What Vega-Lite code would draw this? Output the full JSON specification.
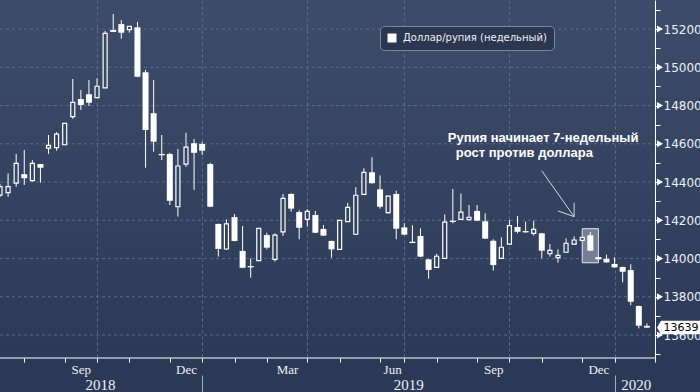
{
  "$schema": "https://vega.github.io/schema/vega-lite/v6.json",
  "width": 700,
  "height": 358,
  "autosize": {"type": "none"},
  "padding": {"left": 0, "top": 0, "right": 0, "bottom": 34},
  "background": "#2b3956",
  "view": {"stroke": null, "fill": {"gradient": "linear", "x1": 0, "y1": 0, "x2": 0, "y2": 1, "stops": [{"offset": 0, "color": "#3d4c69"}, {"offset": 1, "color": "#2c3a57"}]}},
  "datasets": {
    "candles": [
      {"d": "2018-07-06", "o": 14332, "h": 14390, "l": 14322, "c": 14376},
      {"d": "2018-07-13", "o": 14345, "h": 14446, "l": 14323, "c": 14376},
      {"d": "2018-07-20", "o": 14394, "h": 14547, "l": 14376, "c": 14498},
      {"d": "2018-07-27", "o": 14441, "h": 14568, "l": 14385, "c": 14420},
      {"d": "2018-08-03", "o": 14407, "h": 14515, "l": 14402, "c": 14498},
      {"d": "2018-08-10", "o": 14494, "h": 14495, "l": 14397, "c": 14475},
      {"d": "2018-08-17", "o": 14577, "h": 14646, "l": 14547, "c": 14592},
      {"d": "2018-08-24", "o": 14580, "h": 14662, "l": 14564, "c": 14651},
      {"d": "2018-08-31", "o": 14595, "h": 14709, "l": 14593, "c": 14707},
      {"d": "2018-09-07", "o": 14742, "h": 14939, "l": 14731, "c": 14817},
      {"d": "2018-09-14", "o": 14834, "h": 14881, "l": 14777, "c": 14803},
      {"d": "2018-09-21", "o": 14859, "h": 14934, "l": 14798, "c": 14815},
      {"d": "2018-09-28", "o": 14841, "h": 14943, "l": 14839, "c": 14901},
      {"d": "2018-10-05", "o": 14893, "h": 15190, "l": 14891, "c": 15178},
      {"d": "2018-10-12", "o": 15195, "h": 15279, "l": 15184, "c": 15185},
      {"d": "2018-10-19", "o": 15226, "h": 15247, "l": 15150, "c": 15181},
      {"d": "2018-10-26", "o": 15197, "h": 15216, "l": 15181, "c": 15214},
      {"d": "2018-11-02", "o": 15209, "h": 15237, "l": 14949, "c": 14951},
      {"d": "2018-11-09", "o": 14974, "h": 14986, "l": 14475, "c": 14672},
      {"d": "2018-11-16", "o": 14760, "h": 14934, "l": 14559, "c": 14611},
      {"d": "2018-11-23", "o": 14547, "h": 14646, "l": 14515, "c": 14540},
      {"d": "2018-11-30", "o": 14547, "h": 14553, "l": 14280, "c": 14302},
      {"d": "2018-12-07", "o": 14271, "h": 14573, "l": 14219, "c": 14484},
      {"d": "2018-12-14", "o": 14494, "h": 14658, "l": 14480, "c": 14583},
      {"d": "2018-12-21", "o": 14603, "h": 14625, "l": 14359, "c": 14553},
      {"d": "2018-12-28", "o": 14599, "h": 14611, "l": 14541, "c": 14564},
      {"d": "2019-01-04", "o": 14494, "h": 14501, "l": 14269, "c": 14271},
      {"d": "2019-01-11", "o": 14181, "h": 14183, "l": 14010, "c": 14050},
      {"d": "2019-01-18", "o": 14050, "h": 14205, "l": 14045, "c": 14181},
      {"d": "2019-01-25", "o": 14217, "h": 14233, "l": 14090, "c": 14092},
      {"d": "2019-02-01", "o": 14040, "h": 14170, "l": 13950, "c": 13952},
      {"d": "2019-02-08", "o": 13961, "h": 14001, "l": 13900, "c": 13954},
      {"d": "2019-02-15", "o": 13989, "h": 14160, "l": 13987, "c": 14158},
      {"d": "2019-02-22", "o": 14123, "h": 14135, "l": 14048, "c": 14057},
      {"d": "2019-03-01", "o": 13996, "h": 14132, "l": 13984, "c": 14123},
      {"d": "2019-03-08", "o": 14140, "h": 14338, "l": 14118, "c": 14315},
      {"d": "2019-03-15", "o": 14338, "h": 14340, "l": 14245, "c": 14261},
      {"d": "2019-03-22", "o": 14243, "h": 14252, "l": 14101, "c": 14161},
      {"d": "2019-03-29", "o": 14205, "h": 14258, "l": 14167, "c": 14247},
      {"d": "2019-04-05", "o": 14228, "h": 14249, "l": 14133, "c": 14135},
      {"d": "2019-04-12", "o": 14155, "h": 14176, "l": 14118, "c": 14120},
      {"d": "2019-04-19", "o": 14092, "h": 14094, "l": 14005, "c": 14048},
      {"d": "2019-04-26", "o": 14048, "h": 14202, "l": 14046, "c": 14200},
      {"d": "2019-05-03", "o": 14193, "h": 14291, "l": 14191, "c": 14268},
      {"d": "2019-05-10", "o": 14127, "h": 14374, "l": 14125, "c": 14331},
      {"d": "2019-05-17", "o": 14336, "h": 14472, "l": 14334, "c": 14451},
      {"d": "2019-05-24", "o": 14451, "h": 14530, "l": 14392, "c": 14394},
      {"d": "2019-05-31", "o": 14362, "h": 14435, "l": 14261, "c": 14271},
      {"d": "2019-06-14", "o": 14240, "h": 14328, "l": 14235, "c": 14326},
      {"d": "2019-06-21", "o": 14338, "h": 14355, "l": 14101, "c": 14156},
      {"d": "2019-06-28", "o": 14163, "h": 14184, "l": 14123, "c": 14125},
      {"d": "2019-07-05", "o": 14088, "h": 14174, "l": 14081, "c": 14081},
      {"d": "2019-07-12", "o": 14118, "h": 14158, "l": 14008, "c": 14010},
      {"d": "2019-07-19", "o": 13996, "h": 13998, "l": 13895, "c": 13940},
      {"d": "2019-07-26", "o": 13954, "h": 14025, "l": 13952, "c": 14012},
      {"d": "2019-08-02", "o": 14001, "h": 14231, "l": 13999, "c": 14190},
      {"d": "2019-08-09", "o": 14198, "h": 14364, "l": 14184, "c": 14191},
      {"d": "2019-08-16", "o": 14205, "h": 14340, "l": 14203, "c": 14243},
      {"d": "2019-08-23", "o": 14203, "h": 14280, "l": 14198, "c": 14216},
      {"d": "2019-08-30", "o": 14249, "h": 14280, "l": 14196, "c": 14198},
      {"d": "2019-09-06", "o": 14195, "h": 14237, "l": 14102, "c": 14104},
      {"d": "2019-09-13", "o": 14093, "h": 14101, "l": 13937, "c": 13966},
      {"d": "2019-09-20", "o": 14001, "h": 14111, "l": 13999, "c": 14059},
      {"d": "2019-09-27", "o": 14075, "h": 14202, "l": 14073, "c": 14172},
      {"d": "2019-10-04", "o": 14165, "h": 14223, "l": 14132, "c": 14140},
      {"d": "2019-10-11", "o": 14144, "h": 14193, "l": 14135, "c": 14137},
      {"d": "2019-10-18", "o": 14132, "h": 14198, "l": 14120, "c": 14153},
      {"d": "2019-10-25", "o": 14132, "h": 14134, "l": 14001, "c": 14041},
      {"d": "2019-11-01", "o": 14025, "h": 14076, "l": 14010, "c": 14043},
      {"d": "2019-11-08", "o": 14005, "h": 14048, "l": 13978, "c": 14017},
      {"d": "2019-11-15", "o": 14033, "h": 14106, "l": 14031, "c": 14080},
      {"d": "2019-11-22", "o": 14075, "h": 14116, "l": 14073, "c": 14097},
      {"d": "2019-11-29", "o": 14095, "h": 14113, "l": 14093, "c": 14111},
      {"d": "2019-12-06", "o": 14122, "h": 14140, "l": 14039, "c": 14041},
      {"d": "2019-12-13", "o": 14008, "h": 14010, "l": 13994, "c": 13996},
      {"d": "2019-12-20", "o": 13999, "h": 14020, "l": 13978, "c": 13980},
      {"d": "2019-12-27", "o": 13972, "h": 14007, "l": 13952, "c": 13954},
      {"d": "2020-01-03", "o": 13956, "h": 13958, "l": 13876, "c": 13931},
      {"d": "2020-01-10", "o": 13940, "h": 13970, "l": 13756, "c": 13774},
      {"d": "2020-01-17", "o": 13752, "h": 13754, "l": 13635, "c": 13649},
      {"d": "2020-01-24", "o": 13648, "h": 13661, "l": 13637, "c": 13639}
    ],
    "highlight": [{"d": "2019-11-29", "d2": "2019-12-13", "v": 14156, "v2": 13978}],
    "notes": [
      {"d": "2019-08-02", "v": 14611, "t": "Рупия начинает 7-недельный"},
      {"d": "2019-08-09", "v": 14530, "t": "рост против доллара"}
    ],
    "arrow": [
      {"d": "2019-10-25", "v": 14459, "d2": "2019-11-22", "v2": 14219},
      {"d": "2019-11-08", "v": 14249, "d2": "2019-11-22", "v2": 14219},
      {"d": "2019-11-22", "v": 14292, "d2": "2019-11-22", "v2": 14219}
    ],
    "marks": [
      {"d": "2020-01-31", "v": 13600},
      {"d": "2020-01-31", "v": 13800},
      {"d": "2020-01-31", "v": 14000},
      {"d": "2020-01-31", "v": 14200},
      {"d": "2020-01-31", "v": 14400},
      {"d": "2020-01-31", "v": 14600},
      {"d": "2020-01-31", "v": 14800},
      {"d": "2020-01-31", "v": 15000},
      {"d": "2020-01-31", "v": 15200}
    ],
    "last": [{"d": "2020-01-31", "v": 13639, "t": "13639"}]
  },
  "resolve": {"axis": {"x": "independent", "y": "independent"}},
  "layer": [
    {
      "data": {"name": "marks"},
      "mark": {"type": "rule", "color": "#5b6b8b", "strokeWidth": 1, "strokeDash": [3, 3]},
      "encoding": {
        "x": {"datum": "2018-07-06", "type": "ordinal", "axis": null,
          "scale": {"type": "point", "range": [0, 655], "padding": 0,
            "domain": ["2018-07-06","2018-07-13","2018-07-20","2018-07-27","2018-08-03","2018-08-10","2018-08-17","2018-08-24","2018-08-31","2018-09-07","2018-09-14","2018-09-21","2018-09-28","2018-10-05","2018-10-12","2018-10-19","2018-10-26","2018-11-02","2018-11-09","2018-11-16","2018-11-23","2018-11-30","2018-12-07","2018-12-14","2018-12-21","2018-12-28","2019-01-04","2019-01-11","2019-01-18","2019-01-25","2019-02-01","2019-02-08","2019-02-15","2019-02-22","2019-03-01","2019-03-08","2019-03-15","2019-03-22","2019-03-29","2019-04-05","2019-04-12","2019-04-19","2019-04-26","2019-05-03","2019-05-10","2019-05-17","2019-05-24","2019-05-31","2019-06-14","2019-06-21","2019-06-28","2019-07-05","2019-07-12","2019-07-19","2019-07-26","2019-08-02","2019-08-09","2019-08-16","2019-08-23","2019-08-30","2019-09-06","2019-09-13","2019-09-20","2019-09-27","2019-10-04","2019-10-11","2019-10-18","2019-10-25","2019-11-01","2019-11-08","2019-11-15","2019-11-22","2019-11-29","2019-12-06","2019-12-13","2019-12-20","2019-12-27","2020-01-03","2020-01-10","2020-01-17","2020-01-24","2020-01-31"]}},
        "x2": {"datum": "2020-01-31"},
        "y": {"field": "v", "type": "quantitative", "scale": {"domain": [13480, 15352], "nice": false, "zero": false},
          "axis": {
            "orient": "right", "offset": -45, "title": null, "grid": false,
            "values": [13500, 13600, 13700, 13800, 13900, 14000, 14100, 14200, 14300, 14400, 14500, 14600, 14700, 14800, 14900, 15000, 15100, 15200, 15300],
            "format": "d",
            "labelExpr": "datum.value % 200 == 0 ? datum.label : ''",
            "domain": true, "domainColor": "#ffffff", "domainWidth": 1,
            "ticks": true, "tickColor": "#ffffff", "tickSize": 5,
            "labelPadding": 3, "labelFont": "DejaVu Sans", "labelFontSize": 12, "labelColor": "#eef0f4",
            "labelOverlap": false, "labelBound": false, "labelFlush": false
          }}
      }
    },
    {
      "data": {"name": "last"},
      "mark": {"type": "rule", "color": "#ffffff", "strokeWidth": 1},
      "encoding": {
        "x": {"datum": "2018-07-06", "type": "ordinal", "axis": null},
        "x2": {"datum": "2020-01-31"},
        "y": {"datum": 13480, "type": "quantitative", "axis": null}
      }
    },
    {
      "data": {"name": "highlight"},
      "mark": {"type": "rect", "fill": "#808aa0", "fillOpacity": 0.85, "stroke": "#e4e7ee", "strokeWidth": 1},
      "encoding": {
        "x": {"field": "d", "type": "ordinal", "axis": null},
        "x2": {"field": "d2"},
        "y": {"field": "v", "type": "quantitative", "axis": null},
        "y2": {"field": "v2"}
      }
    },
    {
      "data": {"name": "candles"},
      "mark": {"type": "rule", "color": "#ffffff", "strokeWidth": 1},
      "encoding": {
        "x": {"field": "d", "type": "ordinal",
          "axis": {
            "orient": "bottom", "title": null, "labelAngle": 0, "domain": false,
            "values": ["2018-07-27","2018-08-31","2018-09-14","2018-09-28","2018-10-26","2018-11-30","2018-12-14","2018-12-28","2019-01-25","2019-02-22","2019-03-08","2019-03-29","2019-04-26","2019-05-31","2019-06-14","2019-06-28","2019-07-26","2019-08-30","2019-09-13","2019-09-27","2019-10-25","2019-11-29","2019-12-13","2019-12-27","2020-01-31"],
            "tickColor": "#ffffff", "tickSize": 4,
            "tickOpacity": {"condition": {"test": "utcdate(toDate(datum.value)) > 20", "value": 1}, "value": 0},
            "grid": true, "gridColor": "#5b6b8b", "gridDash": [3, 3], "gridWidth": 1,
            "gridOpacity": {"condition": {"test": "utcdate(toDate(datum.value)) > 20 && utcmonth(toDate(datum.value)) % 3 == 2", "value": 1}, "value": 0},
            "labelExpr": "utcdate(toDate(datum.value)) <= 20 ? utcFormat(toDate(datum.value), '%b') : ''",
            "labelOffset": {"condition": {"test": "utcmonth(toDate(datum.value)) == 2 || utcmonth(toDate(datum.value)) == 5", "value": 4}, "value": 0},
            "labelFont": "Liberation Sans Narrow", "labelFontSize": 13, "labelColor": "#eef0f4",
            "labelPadding": 1, "labelOverlap": false, "labelFlush": false, "labelBound": false
          }},
        "y": {"field": "h", "type": "quantitative", "axis": null},
        "y2": {"field": "l"}
      }
    },
    {
      "data": {"name": "candles"},
      "transform": [{"filter": "datum.c > datum.o"}],
      "mark": {"type": "bar", "stroke": "#ffffff", "strokeWidth": 1.2, "size": 4},
      "encoding": {
        "x": {"field": "d", "type": "ordinal", "axis": null},
        "y": {"field": "o", "type": "quantitative", "axis": null},
        "y2": {"field": "c"},
        "fill": {"field": "o", "type": "quantitative", "legend": null, "scale": {"domain": [13480, 15352], "range": ["#2c3a57", "#3d4c69"]}}
      }
    },
    {
      "data": {"name": "candles"},
      "transform": [{"filter": "datum.c <= datum.o"}],
      "mark": {"type": "bar", "fill": "#ffffff", "size": 6},
      "encoding": {
        "x": {"field": "d", "type": "ordinal", "axis": null},
        "y": {"field": "o", "type": "quantitative", "axis": null},
        "y2": {"field": "c"}
      }
    },
    {
      "data": {"name": "notes"},
      "mark": {"type": "text", "align": "left", "baseline": "alphabetic", "dx": 3, "font": "Liberation Sans", "fontWeight": "bold", "fontSize": 13, "color": "#ffffff"},
      "encoding": {
        "x": {"field": "d", "type": "ordinal", "axis": null},
        "y": {"field": "v", "type": "quantitative", "axis": null},
        "text": {"field": "t"}
      }
    },
    {
      "data": {"name": "arrow"},
      "mark": {"type": "rule", "color": "#d4d8e0", "strokeWidth": 1},
      "encoding": {
        "x": {"field": "d", "type": "ordinal", "axis": null},
        "x2": {"field": "d2"},
        "y": {"field": "v", "type": "quantitative", "axis": null},
        "y2": {"field": "v2"}
      }
    },
    {
      "data": {"name": "marks"},
      "mark": {"type": "point", "shape": "triangle-right", "size": 50, "filled": true, "opacity": 1, "xOffset": 5},
      "encoding": {
        "x": {"field": "d", "type": "ordinal",
          "axis": {
            "orient": "bottom", "offset": 17, "title": null, "domain": false, "grid": false, "labelAngle": 0,
            "values": ["2018-09-28", "2018-12-28", "2019-06-28", "2019-12-27", "2020-01-17"],
            "tickSize": 17, "tickColor": "#a5adbd",
            "tickOpacity": {"condition": {"test": "utcmonth(toDate(datum.value)) == 11", "value": 1}, "value": 0},
            "labelExpr": "utcmonth(toDate(datum.value)) == 11 ? '' : utcFormat(toDate(datum.value), '%Y')",
            "labelOffset": {"condition": [{"test": "utcyear(toDate(datum.value)) == 2018", "value": 3}, {"test": "utcyear(toDate(datum.value)) == 2020", "value": -3}], "value": 4},
            "labelFont": "Liberation Sans Narrow", "labelFontSize": 15, "labelColor": "#eef0f4",
            "labelPadding": -15, "labelOverlap": false, "labelFlush": false, "labelBound": false
          }},
        "y": {"field": "v", "type": "quantitative", "axis": null},
        "color": {"datum": "Доллар/рупия (недельный)", "type": "nominal", "scale": {"range": ["#ffffff"]},
          "legend": {"title": null, "orient": "none", "legendX": 380, "legendY": 26,
            "fillColor": "#2b3651", "strokeColor": "#7c869b", "cornerRadius": 4, "padding": 7,
            "symbolType": "square", "symbolSize": 81, "symbolStrokeWidth": 0, "symbolOpacity": 1,
            "labelFont": "DejaVu Sans", "labelFontSize": 10, "labelColor": "#f0f0f0", "labelOffset": 6, "labelLimit": 300}}
      }
    },
    {
      "data": {"name": "last"},
      "mark": {"type": "point", "shape": "M-1,0L-0.83,-0.28L1,-0.28L1,0.28L-0.83,0.28Z", "size": 2304, "filled": true, "color": "#ffffff", "opacity": 1, "xOffset": 26},
      "encoding": {
        "x": {"field": "d", "type": "ordinal", "axis": null},
        "y": {"field": "v", "type": "quantitative", "axis": null}
      }
    },
    {
      "data": {"name": "last"},
      "mark": {"type": "text", "align": "center", "baseline": "middle", "font": "DejaVu Sans", "fontSize": 11, "color": "#000000", "xOffset": 26},
      "encoding": {
        "x": {"field": "d", "type": "ordinal", "axis": null},
        "y": {"field": "v", "type": "quantitative", "axis": null},
        "text": {"field": "t"}
      }
    }
  ]
}
